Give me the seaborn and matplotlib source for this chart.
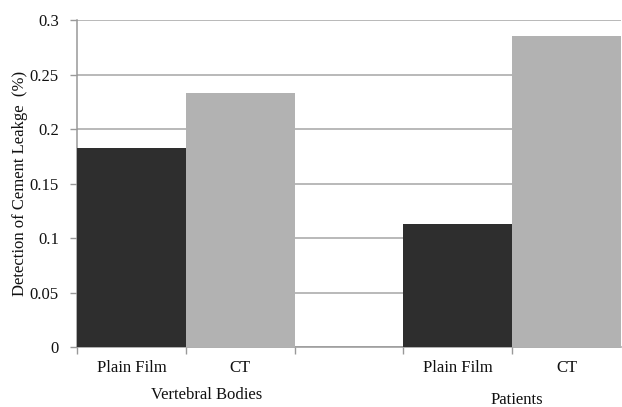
import matplotlib
matplotlib.use("Agg")
import matplotlib.pyplot as plt
import seaborn as sns
import pandas as pd

groups = ["Vertebral Bodies", "Vertebral Bodies", "Patients", "Patients"]
modalities = ["Plain Film", "CT", "Plain Film", "CT"]
values = [0.183, 0.233, 0.113, 0.286]
slots = ["VB Plain Film", "VB CT", "P Plain Film", "P CT"]
slot_order = ["VB Plain Film", "VB CT", "gap", "P Plain Film", "P CT"]
yticks = [0, 0.05, 0.1, 0.15, 0.2, 0.25, 0.3]
ytick_labels = ["0", "0.05", "0.1", "0.15", "0.2", "0.25", "0.3"]
colors = {"Plain Film": "#2e2e2e", "CT": "#b2b2b2"}

df = pd.DataFrame({"slot": slots, "group": groups, "modality": modalities, "value": values})

sns.set_theme(style="white")
plt.rcParams["font.family"] = ["Liberation Serif", "DejaVu Serif"]

fig = plt.figure(figsize=(6.22, 4.07), dpi=100)
ax = fig.add_axes([77/622, 1-347.3/407, (621-77)/622, (347.3-20.3)/407])

sns.barplot(data=df, x="slot", y="value", hue="modality", order=slot_order,
            palette=colors, dodge=False, width=1.0, saturation=1, ax=ax,
            legend=False, linewidth=0, zorder=3)

ax.set_xlim(-0.5, 4.5)
ax.set_ylim(0, 0.3)
ax.set_yticks(yticks)
ax.set_yticklabels(ytick_labels, fontsize=12, color="#111111")
ax.yaxis.grid(True, color="#a6a6a6", linewidth=1.1, zorder=0)
ax.set_axisbelow(True)

# category boundaries as major ticks, labels on minor ticks
ax.set_xticks([-0.5, 0.5, 1.5, 2.5, 3.5])
ax.set_xticklabels([])
ax.set_xticks([0, 1, 3, 4], minor=True)
ax.set_xticklabels(modalities, minor=True, fontsize=12, color="#111111")
ax.tick_params(axis="x", which="major", direction="out", length=5, width=1, color="#999999", bottom=True)
ax.tick_params(axis="x", which="minor", length=0, pad=9)
ax.tick_params(axis="y", which="major", direction="out", length=5, width=1, color="#999999", left=True, pad=8)

for s in ["top", "right"]:
    ax.spines[s].set_visible(False)
for s in ["left", "bottom"]:
    ax.spines[s].set_color("#999999")
    ax.spines[s].set_linewidth(1.1)

ax.set_xlabel("")
ax.set_ylabel("Detection of Cement Leakge  (%)", fontsize=12, color="#111111", labelpad=1)

fig.text(207/622, 1-395/407, "Vertebral Bodies", ha="center", va="center", fontsize=12, color="#111111")
fig.text(517/622, 1-400/407, "Patients", ha="center", va="center", fontsize=12, color="#111111")

fig.savefig("out.png", dpi=100)
